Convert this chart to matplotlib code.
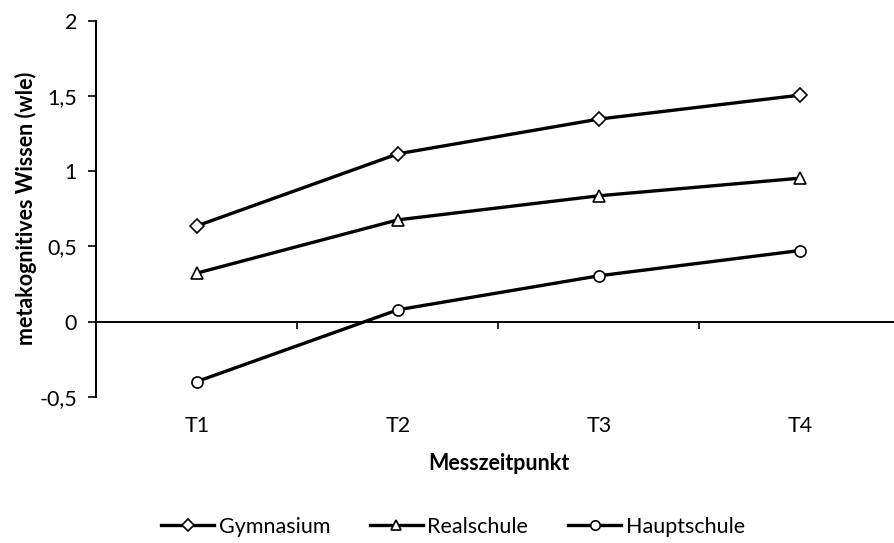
import matplotlib
matplotlib.use("Agg")
import matplotlib.pyplot as plt
import numpy as np

# Mittelwerte je Schulform und Messzeitpunkt
zeitpunkte = ["T1", "T2", "T3", "T4"]
gymnasium = [0.636, 1.115, 1.346, 1.505]
realschule = [0.322, 0.676, 0.836, 0.953]
hauptschule = [-0.399, 0.078, 0.304, 0.472]

y_ticks = [-0.5, 0, 0.5, 1, 1.5, 2]
y_tick_labels = ["-0,5", "0", "0,5", "1", "1,5", "2"]

plt.rcParams["font.family"] = ["Lato", "DejaVu Sans"]
plt.rcParams["font.size"] = 15.5

fig = plt.figure(figsize=(8.95, 5.43), dpi=100)
ax = fig.add_axes([96.5 / 895, 1 - 396.7 / 543, 804 / 895, 376 / 543])

x = np.arange(len(zeitpunkte))
serien = [
    ("Gymnasium", gymnasium, "D", 7.5),
    ("Realschule", realschule, "^", 9),
    ("Hauptschule", hauptschule, "o", 8),
]
for name, werte, marker, ms in serien:
    ax.plot(x, werte, color="black", lw=2.4, marker=marker, ms=ms,
            mfc="white", mec="black", mew=1.2, label=name, clip_on=False)

ax.set_xlim(-0.5, len(zeitpunkte) - 0.5)
ax.set_ylim(-0.5, 2)
ax.set_yticks(y_ticks)
ax.set_yticklabels(y_tick_labels)
ax.set_xticks(x)
ax.set_xticklabels(zeitpunkte)

for side in ["top", "right", "bottom"]:
    ax.spines[side].set_visible(False)
ax.spines["left"].set_linewidth(1.4)
ax.tick_params(axis="y", direction="out", length=6, width=1.2, pad=8)
ax.tick_params(axis="x", length=0, pad=14)

# Kategorienachse auf Höhe von 0 mit Trennstrichen zwischen den Zeitpunkten
nullachse = ax.secondary_xaxis(0, transform=ax.transData)
nullachse.spines["bottom"].set_linewidth(1.4)
nullachse.set_xticks(x[:-1] + 0.5)
nullachse.tick_params(direction="out", length=5, width=1.2, labelbottom=False)

ax.set_ylabel("metakognitives Wissen (wle)", fontweight="bold", labelpad=2)
ax.set_xlabel("Messzeitpunkt", fontweight="bold", labelpad=12)

fig.legend(loc="center", bbox_to_anchor=(453 / 895, 1 - 527 / 543), ncol=3,
           frameon=False, handlelength=2.45, handletextpad=0.22,
           columnspacing=1.85, markerscale=0.85)

fig.savefig("out.png", dpi=100)
